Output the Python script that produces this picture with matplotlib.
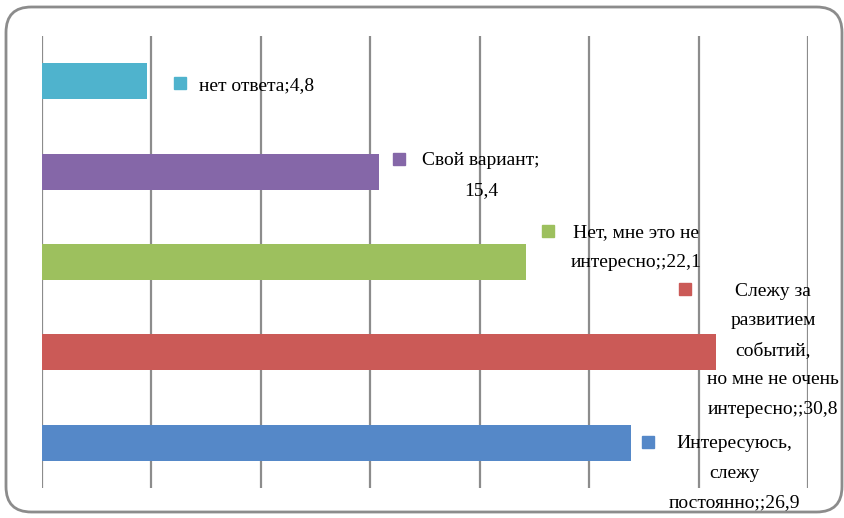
import matplotlib
matplotlib.use("Agg")
import matplotlib.pyplot as plt
from matplotlib.patches import FancyBboxPatch

# Survey answers (percent), bottom to top
values = [26.9, 30.8, 22.1, 15.4, 4.8]
colors = ["#5588C8", "#CB5A57", "#9DC05E", "#8567A8", "#4FB3CD"]

# data labels: category name plus value
labels = [
    "Интересуюсь,\nслежу\nпостоянно;;26,9",
    "Слежу за\nразвитием\nсобытий,\nно мне не очень\nинтересно;;30,8",
    "Нет, мне это не\nинтересно;;22,1",
    "Свой вариант;\n15,4",
    "нет ответа;4,8",
]

W, H = 845, 518
fig = plt.figure(figsize=(W / 100, H / 100), dpi=100)

# rounded chart-area frame
frame = FancyBboxPatch((6 / W, 6 / H), (836 / W), (505 / H),
                       boxstyle="round,pad=0,rounding_size=0.03",
                       transform=fig.transFigure, facecolor="white",
                       edgecolor="#8C8C8C", linewidth=2.0, zorder=-5,
                       mutation_aspect=W / H)
fig.patches.append(frame)

ax = fig.add_axes([42 / W, (H - 488) / H, (808 - 42) / W, (488 - 36) / H])
ax.set_zorder(2)
ax.set_facecolor("none")
ypos = list(range(len(values)))
ax.barh(ypos, values, height=0.4, color=colors, zorder=3)
ax.set_xlim(0, 35)
ax.set_ylim(-0.5, 4.5)
ax.set_xticks(range(0, 36, 5))
ax.grid(axis="x", color="#8C8C8C", linewidth=1.6, zorder=0)
ax.tick_params(left=False, bottom=False, labelleft=False, labelbottom=False)
for s in ax.spines.values():
    s.set_visible(False)

# label placement offsets (pixels from the bar end / bar center)
marker_dx = [17, -31, 22, 20, 33]
text_dx = [104, 57, 110, 102, 0]
first_dy = [1, 63, 31, 13, -2]
line_h = 29.5
font = dict(family=["Liberation Serif", "DejaVu Serif"], size=14,
            color="black")

fig.canvas.draw()
for i, (v, lab) in enumerate(zip(values, labels)):
    lines = lab.split("\n")
    x_px, y_px = ax.transData.transform((v, i))
    mx = x_px + marker_dx[i]
    my = y_px + first_dy[i]
    fig.patches.append(plt.Rectangle(((mx - 6) / W, (my - 6) / H), 12 / W, 12 / H,
                                     transform=fig.transFigure,
                                     color=colors[i], zorder=5))
    for k, ln in enumerate(lines):
        if len(lines) == 1:
            fig.text((mx + 19) / W, my / H, ln, ha="left",
                     va="center_baseline", zorder=6, **font)
        else:
            fig.text((x_px + text_dx[i]) / W, (my - k * line_h) / H, ln,
                     ha="center", va="center_baseline", zorder=6, **font)

fig.savefig("out.png", dpi=100)
